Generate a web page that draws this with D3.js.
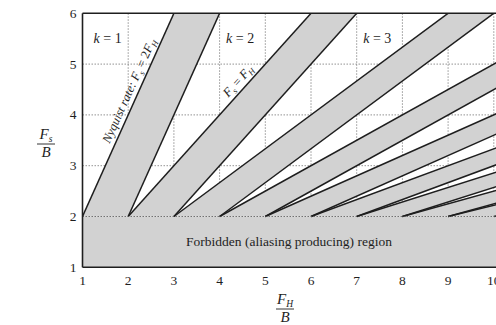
<!DOCTYPE html>
<html>
<head>
<meta charset="utf-8">
<script src="https://cdn.jsdelivr.net/npm/d3@7"></script>
<style>
  body { margin: 0; background: #fff; }
  svg { display: block; font-family: 'Liberation Serif', 'DejaVu Serif', serif; }
</style>
</head>
<body>
<svg width="496" height="325"></svg>
<script>
// chart values
const xTicks = [1, 2, 3, 4, 5, 6, 7, 8, 9, 10]
const yTicks = [1, 2, 3, 4, 5, 6]
const bandK = [1, 2, 3, 4, 5, 6, 7, 8, 9] // gray band k lies between Fs = 2FH/k and Fs = 2(FH-B)/k
const forbiddenTop = 2
const regionLabels = [
  { k: 1, x: 1.55, y: 5.5 },
  { k: 2, x: 4.45, y: 5.5 },
  { k: 3, x: 7.45, y: 5.5 },
]

const svg = d3.select('svg')
const margin = { left: 82.5, top: 13.3, right: 2, bottom: 57.7 }
const width = 496
const height = 325

const x = d3.scaleLinear().domain([1, 10]).range([margin.left, margin.left + 9 * 45.7])
const y = d3.scaleLinear().domain([1, 6]).range([height - margin.bottom, margin.top])

const gray = '#d2d2d2'
const ink = '#1e1e1e'

// clip for the plot area
svg.append('clipPath').attr('id', 'plot')
  .append('rect')
  .attr('x', x(1)).attr('y', y(6))
  .attr('width', x(10) - x(1) + 10).attr('height', y(1) - y(6))

// dotted grid
const grid = svg.append('g').attr('clip-path', 'url(#plot)')
grid.selectAll('line.gx')
  .data(xTicks.slice(1))
  .join('line')
  .attr('x1', (d) => x(d)).attr('x2', (d) => x(d))
  .attr('y1', y(6)).attr('y2', y(forbiddenTop))
  .attr('stroke', '#777').attr('stroke-width', 0.8)
  .attr('stroke-dasharray', '1.5,1.5')
grid.selectAll('line.gy')
  .data(yTicks.filter((d) => d > forbiddenTop && d < 6))
  .join('line')
  .attr('x1', x(1)).attr('x2', x(10) + 5)
  .attr('y1', (d) => y(d)).attr('y2', (d) => y(d))
  .attr('stroke', '#777').attr('stroke-width', 0.8)
  .attr('stroke-dasharray', '1.5,1.5')

const plot = svg.append('g').attr('clip-path', 'url(#plot)')

// forbidden region below Fs/B = 2
plot.append('rect')
  .attr('x', x(1)).attr('y', y(forbiddenTop))
  .attr('width', x(10) - x(1) + 10).attr('height', y(1) - y(forbiddenTop))
  .attr('fill', gray)

// gray bands
const t = 30
const bandPoly = (k) => [
  [k, 2], [k + 1, 2], [k + 1 + t, 2 + (2 * t) / k], [k + t, 2 + (2 * t) / k],
]
plot.selectAll('path.band')
  .data(bandK)
  .join('path')
  .attr('d', (k) => d3.line().x((p) => x(p[0])).y((p) => y(p[1]))(bandPoly(k)) + 'Z')
  .attr('fill', gray)

// band edges
const edges = bandK.flatMap((k) => [[k, k], [k + 1, k]])
plot.selectAll('line.edge')
  .data(edges)
  .join('line')
  .attr('x1', (d) => x(d[0])).attr('y1', y(2))
  .attr('x2', (d) => x(d[0] + t)).attr('y2', (d) => y(2 + (2 * t) / d[1]))
  .attr('stroke', ink).attr('stroke-width', 1.5)

// dotted line on top of forbidden edge
plot.append('line')
  .attr('x1', x(1)).attr('x2', x(10) + 5)
  .attr('y1', y(2)).attr('y2', y(2))
  .attr('stroke', '#555').attr('stroke-width', 0.8)
  .attr('stroke-dasharray', '1.5,1.5')

// frame
svg.append('line')
  .attr('x1', x(1)).attr('x2', width).attr('y1', y(6)).attr('y2', y(6))
  .attr('stroke', ink).attr('stroke-width', 1.4)
svg.append('line')
  .attr('x1', x(1)).attr('x2', x(1)).attr('y1', y(6)).attr('y2', y(1))
  .attr('stroke', ink).attr('stroke-width', 1.6)
svg.append('line')
  .attr('x1', x(1)).attr('x2', width).attr('y1', y(1)).attr('y2', y(1))
  .attr('stroke', ink).attr('stroke-width', 1.6)

// tick labels
svg.selectAll('text.xt')
  .data(xTicks)
  .join('text')
  .attr('x', (d) => x(d)).attr('y', y(1) + 18)
  .attr('text-anchor', 'middle')
  .attr('font-size', 13.5).attr('fill', ink)
  .text((d) => d)
svg.selectAll('text.yt')
  .data(yTicks)
  .join('text')
  .attr('x', x(1) - 6).attr('y', (d) => y(d) + 4.5)
  .attr('text-anchor', 'end')
  .attr('font-size', 13.5).attr('fill', ink)
  .text((d) => d)

// axis titles as fractions
const fraction = (cx, cy, sub) => {
  const g = svg.append('g').attr('fill', ink)
  const num = g.append('text').attr('x', cx).attr('y', cy - 5)
    .attr('text-anchor', 'middle').attr('font-size', 15)
  num.append('tspan').attr('font-style', 'italic').text('F')
  num.append('tspan').attr('font-style', 'italic').attr('font-size', 9.5).attr('dy', 3).text(sub)
  g.append('line').attr('x1', cx - 9).attr('x2', cx + 9).attr('y1', cy).attr('y2', cy)
    .attr('stroke', ink).attr('stroke-width', 0.9)
  g.append('text').attr('x', cx).attr('y', cy + 13)
    .attr('text-anchor', 'middle').attr('font-size', 15).attr('font-style', 'italic').text('B')
}
fraction(46, 144, 's')
fraction(285, 309, 'H')

// region labels
svg.selectAll('text.k')
  .data(regionLabels)
  .join('text')
  .attr('x', (d) => x(d.x)).attr('y', (d) => y(d.y) + 4.5)
  .attr('text-anchor', 'middle').attr('font-size', 14).attr('fill', ink)
  .each(function (d) {
    const s = d3.select(this)
    s.append('tspan').attr('font-style', 'italic').text('k')
    s.append('tspan').text(' = ' + d.k)
  })

svg.append('text')
  .attr('x', 289).attr('y', y(1.5) + 4.5)
  .attr('text-anchor', 'middle').attr('font-size', 13.5).attr('fill', ink)
  .text('Forbidden (aliasing producing) region')

// slanted line labels
const lineLabel = (px, slope, parts) => {
  const cx = x(px)
  const cy = y(2 + slope * (px - (slope === 2 ? 1 : 2)))
  const ang = -Math.atan((slope * 50.8) / 45.7) * 180 / Math.PI
  const txt = svg.append('text')
    .attr('transform', `translate(${cx},${cy}) rotate(${ang})`)
    .attr('dy', -5)
    .attr('text-anchor', 'middle').attr('font-size', 12.5).attr('fill', ink)
  parts.forEach((p) => {
    const sp = txt.append('tspan').text(p.t)
    if (p.i) sp.attr('font-style', 'italic')
    if (p.sub) sp.attr('font-size', 8.5).attr('dy', 3)
    if (p.up) sp.attr('dy', -3)
  })
}
lineLabel(2.2, 2, [
  { t: 'Nyquist rate: ', i: true },
  { t: 'F', i: true }, { t: 's', i: true, sub: true },
  { t: ' = 2', up: true }, { t: 'F', i: true }, { t: 'H', i: true, sub: true },
])
lineLabel(4.55, 1, [
  { t: 'F', i: true }, { t: 's', i: true, sub: true },
  { t: ' = ', up: true }, { t: 'F', i: true }, { t: 'H', i: true, sub: true },
])
</script>
</body>
</html>
